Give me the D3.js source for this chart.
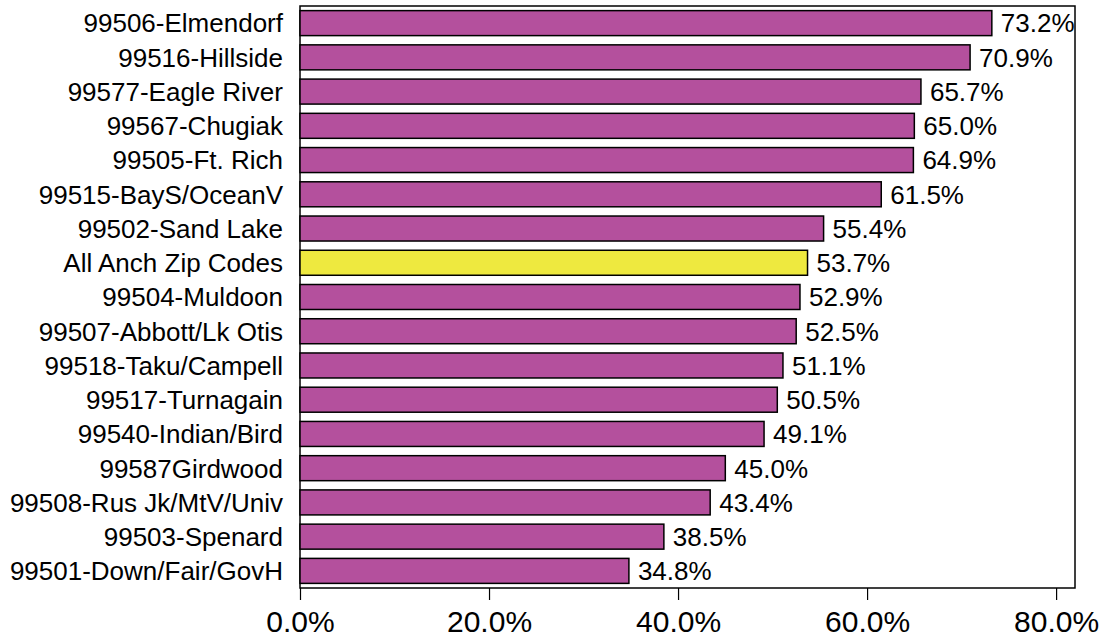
<!DOCTYPE html>
<html>
<head>
<meta charset="utf-8">
<script src="https://cdn.jsdelivr.net/npm/d3@7"></script>
<style>
  html, body { margin: 0; padding: 0; background: #fff; }
  svg { display: block; }
  text { font-family: Arial, "Liberation Sans", sans-serif; fill: #000; }
</style>
</head>
<body>
<svg id="chart" width="1104" height="637"></svg>
<script>
const categories = [
  "99506-Elmendorf", "99516-Hillside", "99577-Eagle River", "99567-Chugiak",
  "99505-Ft. Rich", "99515-BayS/OceanV", "99502-Sand Lake", "All Anch Zip Codes",
  "99504-Muldoon", "99507-Abbott/Lk Otis", "99518-Taku/Campell", "99517-Turnagain",
  "99540-Indian/Bird", "99587Girdwood", "99508-Rus Jk/MtV/Univ", "99503-Spenard",
  "99501-Down/Fair/GovH"
];
const values = [73.2, 70.9, 65.7, 65.0, 64.9, 61.5, 55.4, 53.7, 52.9, 52.5, 51.1, 50.5, 49.1, 45.0, 43.4, 38.5, 34.8];
const highlight = ["All Anch Zip Codes"];
const xTicks = [0, 20, 40, 60, 80];

const svg = d3.select("#chart");
const mLeft = 300, mRight = 1075, mTop = 6, mBottom = 588;

const x = d3.scaleLinear().domain([0, 82]).range([mLeft, mRight]);
const y = d3.scaleBand().domain(categories).range([mTop, mBottom]).paddingInner(0.27).paddingOuter(0.135);

const data = categories.map((c, i) => ({ cat: c, val: values[i] }));

// frame
svg.append("rect")
  .attr("x", mLeft).attr("y", mTop)
  .attr("width", mRight - mLeft).attr("height", mBottom - mTop)
  .attr("fill", "#fff").attr("stroke", "#000").attr("stroke-width", 1.5);

// bars
svg.append("g").selectAll("rect").data(data).join("rect")
  .attr("x", x(0))
  .attr("y", d => y(d.cat))
  .attr("width", d => x(d.val) - x(0))
  .attr("height", y.bandwidth())
  .attr("fill", d => highlight.includes(d.cat) ? "#EEE93F" : "#B4509D")
  .attr("stroke", "#000").attr("stroke-width", 1.5);

// value labels
svg.append("g").selectAll("text").data(data).join("text")
  .attr("x", d => x(d.val) + 9)
  .attr("y", d => y(d.cat) + y.bandwidth() / 2)
  .attr("dy", "0.36em")
  .attr("font-size", 26)
  .text(d => d.val.toFixed(1) + "%");

// category labels
svg.append("g").selectAll("text").data(data).join("text")
  .attr("x", mLeft - 17)
  .attr("y", d => y(d.cat) + y.bandwidth() / 2)
  .attr("dy", "0.36em")
  .attr("text-anchor", "end")
  .attr("font-size", 26)
  .text(d => d.cat);

// x axis
const xAxis = d3.axisBottom(x).tickValues(xTicks).tickSize(12).tickPadding(11)
  .tickFormat(d => d.toFixed(1) + "%");
const gx = svg.append("g").attr("transform", `translate(0,${mBottom})`).call(xAxis);
gx.select(".domain").remove();
gx.selectAll(".tick line").attr("stroke", "#000").attr("stroke-width", 1.2);
gx.selectAll(".tick text").attr("font-size", 30).attr("font-family", "Arial, 'Liberation Sans', sans-serif").attr("fill", "#000");
</script>
</body>
</html>
